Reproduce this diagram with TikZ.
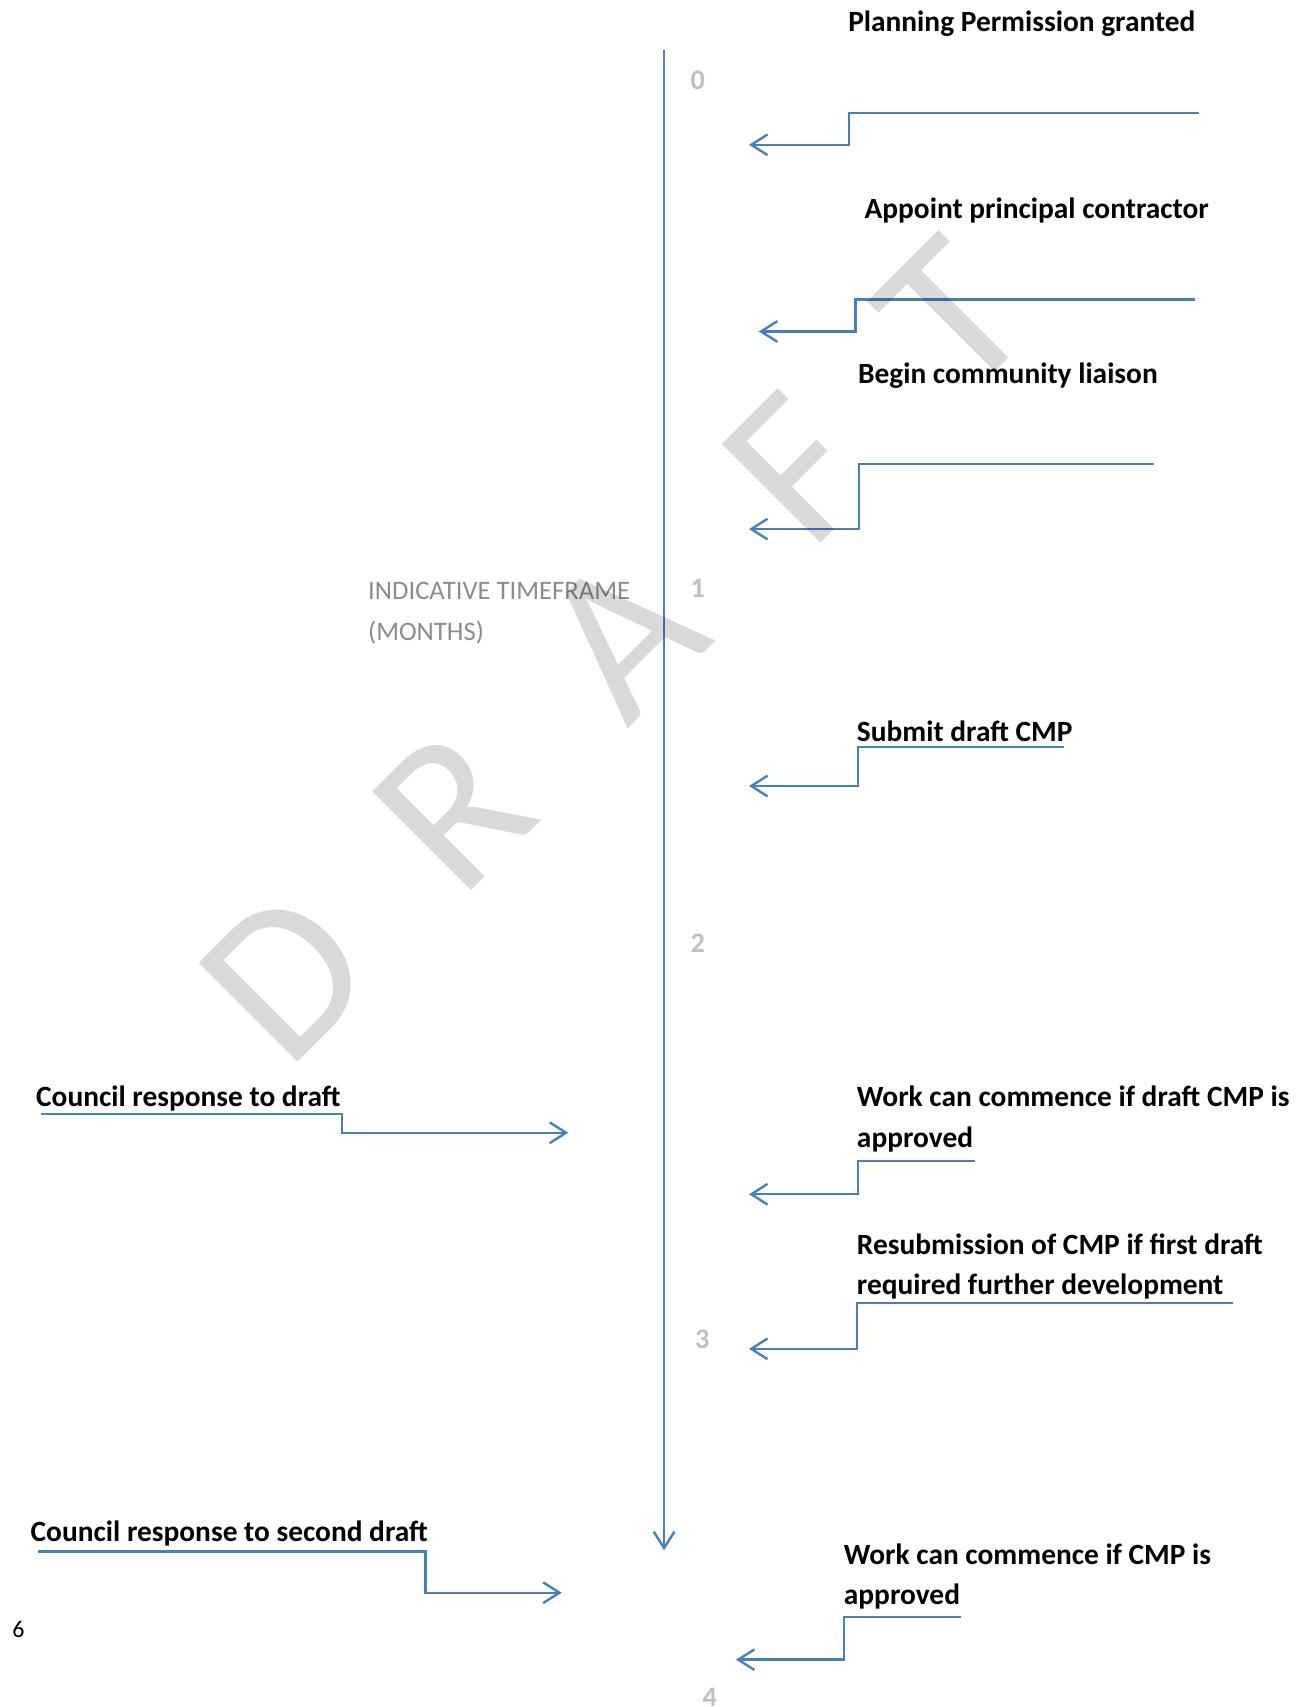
\documentclass[tikz,border=0pt]{standalone}
\usepackage{fontspec}
\setmainfont{Carlito}
\usetikzlibrary{arrows.meta}

\definecolor{lineblue}{RGB}{74,126,187}
\definecolor{numgray}{RGB}{191,191,191}
\definecolor{notegray}{RGB}{140,140,140}

\tikzset{
  steplabel/.style={anchor=base west, inner sep=0pt, align=left,
    font=\fontsize{27}{37}\selectfont\bfseries},
  monthnum/.style={inner sep=0pt, text=numgray,
    font=\fontsize{26}{30}\selectfont\bfseries},
  link/.style={draw=lineblue, line width=2.2pt,
    -{Straight Barb[length=15pt,width=19pt,line width=2.2pt]}},
  watermark/.style={inner sep=0pt, rotate=45, text=black, text opacity=0.15,
    font=\fontsize{200}{200}\selectfont}
}

\begin{document}
\begin{tikzpicture}[x=1pt,y=-1pt]
    \useasboundingbox (0,0) rectangle (1206,1568);

    % Time axis
    \coordinate (axis-top) at (610,46);
    \coordinate (axis-end) at (610,1424);
    \draw[link] (axis-top) -- (axis-end);
    \node[monthnum] (m0) at (641,74) {0};
    \node[monthnum] (m1) at (641,540) {1};
    \node[monthnum] (m2) at (641,866) {2};
    \node[monthnum] (m3) at (645,1230) {3};
    \node[monthnum] (m4) at (652,1559) {4};
    % base = last line
    \node[anchor=base west, inner sep=0pt, align=left, text=notegray,
          font=\fontsize{24.5}{37}\selectfont] (axisname) at (338,588)
          {INDICATIVE TIMEFRAME\\(MONTHS)};

    % Planning Permission granted
    \node[steplabel] (granted) at (779,28.5) {Planning Permission granted};
    \coordinate (granted-s) at (1101,104);
    \coordinate (granted-c) at (780,133);
    \coordinate (granted-t) at (688,133);
    \draw[link] (granted-s) -| (granted-c) -- (granted-t);

    % Appoint principal contractor
    \node[steplabel] (appoint) at (794,200.5) {Appoint principal contractor};
    \coordinate (appoint-s) at (1098,275);
    \coordinate (appoint-c) at (786,304.5);
    \coordinate (appoint-t) at (697,304.5);
    \draw[link] (appoint-s) -| (appoint-c) -- (appoint-t);

    % Begin community liaison
    \node[steplabel] (liaison) at (788,352.7) {Begin community liaison};
    \coordinate (liaison-s) at (1060,426);
    \coordinate (liaison-c) at (789,486);
    \coordinate (liaison-t) at (688,486);
    \draw[link] (liaison-s) -| (liaison-c) -- (liaison-t);

    % Submit draft CMP
    \node[steplabel] (submit) at (787,681.5) {Submit draft CMP};
    \coordinate (submit-s) at (977,686);
    \coordinate (submit-c) at (788,722);
    \coordinate (submit-t) at (688,722);
    \draw[link] (submit-s) -| (submit-c) -- (submit-t);

    % Council response to draft
    \node[steplabel] (response1) at (33,1016) {Council response to draft};
    \coordinate (response1-s) at (38,1023);
    \coordinate (response1-c) at (314,1040.5);
    \coordinate (response1-t) at (522,1040.5);
    \draw[link] (response1-s) -| (response1-c) -- (response1-t);

    % Work can commence (draft)
    \node[steplabel] (commence1) at (787,1053.6)
        {Work can commence if draft CMP is\\approved};
    \coordinate (commence1-s) at (896,1066.5);
    \coordinate (commence1-c) at (788,1097);
    \coordinate (commence1-t) at (688,1097);
    \draw[link] (commence1-s) -| (commence1-c) -- (commence1-t);

    % Resubmission
    \node[steplabel] (resubmit) at (787,1189.5)
        {Resubmission of CMP if first draft\\required further development};
    \coordinate (resubmit-s) at (1133,1197);
    \coordinate (resubmit-c) at (787,1239);
    \coordinate (resubmit-t) at (688,1239);
    \draw[link] (resubmit-s) -| (resubmit-c) -- (resubmit-t);

    % Council response to second draft
    \node[steplabel] (response2) at (28,1415.5) {Council response to second draft};
    \coordinate (response2-s) at (35,1425.3);
    \coordinate (response2-c) at (391,1463);
    \coordinate (response2-t) at (516,1463);
    \draw[link] (response2-s) -| (response2-c) -- (response2-t);

    % Work can commence (final)
    \node[steplabel] (commence2) at (775,1474)
        {Work can commence if CMP is\\approved};
    \coordinate (commence2-s) at (883,1485.5);
    \coordinate (commence2-c) at (775,1524.5);
    \coordinate (commence2-t) at (676,1524.5);
    \draw[link] (commence2-s) -| (commence2-c) -- (commence2-t);

    % Page number
    \node[inner sep=0pt, font=\fontsize{22}{26}\selectfont] (pagenum) at (17,1497) {6};

    % Watermark
    \foreach \ch/\px/\py in {D/262/896, R/416/744, A/572/584, F/732/431, T/875/290}
        \node[watermark] (wm-\ch) at (\px,\py) {\ch};
\end{tikzpicture}
\end{document}
